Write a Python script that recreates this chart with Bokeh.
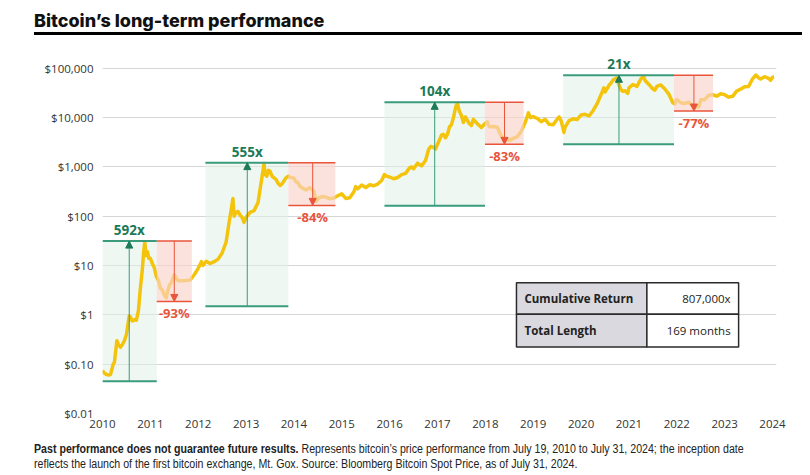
from bokeh.plotting import figure
from bokeh.models import Range1d, FixedTicker, ColumnDataSource, Arrow, NormalHead, Div
from bokeh.layouts import column
from bokeh.core.properties import value
from bokeh.embed import file_html
from bokeh.resources import INLINE

# ---- data (months since July 19, 2010; price in USD) ----
btc_month = [0, 0.5, 1, 1.5, 2, 2.7, 3, 3.6, 4, 4.5, 5, 5.5, 6, 6.7, 7, 7.5, 8, 8.5, 9, 9.5,
             10, 10.3, 10.6, 10.9, 11.3, 11.6, 12, 12.5, 13, 13.5, 14, 14.5, 15, 15.5, 16, 16.3,
             16.8, 17.2, 18, 18.5, 19, 20, 21, 22, 23, 24, 24.8, 25.2, 26, 27, 28, 29, 30, 31,
             31.8, 32.3, 32.7, 33, 33.5, 34, 34.5, 35, 35.5, 36, 37, 38, 39, 39.5, 40.2, 40.5,
             40.8, 41.2, 41.6, 42, 42.5, 43, 43.5, 44, 44.5, 45, 46, 46.6, 47, 48, 48.5, 49,
             49.5, 50, 51, 52, 53, 53.6, 54, 55, 56, 57, 58, 59, 60, 61, 62, 63, 63.5, 64, 65,
             66, 67, 68, 69, 70, 70.7, 71.2, 72, 73, 74, 75, 76, 77, 77.5, 78, 79, 80, 81, 81.8,
             82.3, 83, 83.5, 84, 85, 85.5, 86, 86.5, 87, 87.5, 88, 88.6, 89, 89.4, 90, 90.5, 91,
             92, 92.5, 93, 94, 95, 96, 96.5, 97, 98, 99, 100, 100.8, 101.5, 102, 103, 104, 105,
             106, 106.8, 107.3, 108, 109, 110, 111, 112, 113, 114, 114.5, 115, 115.7, 116, 117,
             118, 119, 120, 121, 122, 123, 124, 125, 125.7, 126, 127, 127.5, 128, 128.9, 129.4,
             130, 130.5, 131, 131.7, 132, 133, 134, 135, 135.7, 136, 137, 138, 138.5, 139, 140,
             141, 142, 143, 143.5, 144, 145, 146, 147, 148, 148.4, 149, 149.5, 150, 151, 152,
             153, 154, 155, 156, 157, 158, 159, 160, 161, 162, 163, 163.8, 164.5, 165, 166, 167,
             167.5, 168, 168.4]
btc_price = [0.075, 0.065, 0.062, 0.06, 0.062, 0.10, 0.11, 0.30, 0.25, 0.22, 0.25, 0.30, 0.40,
             0.95, 0.90, 0.75, 0.80, 0.78, 1.2, 3.5, 8.5, 18, 30, 16, 19, 14, 14, 11, 9, 6, 5.0,
             3.5, 3.2, 2.5, 2.2, 3.0, 4.0, 4.4, 6.5, 5.5, 4.9, 4.9, 5.0, 5.1, 6.5, 8.8, 12, 10,
             12.2, 11, 12, 13.5, 18, 30, 80, 140, 230, 100, 120, 125, 105, 95, 75, 95, 120, 130,
             190, 350, 800, 1150, 700, 650, 850, 820, 650, 600, 560, 470, 420, 450, 600, 650,
             620, 590, 500, 480, 400, 380, 340, 380, 320, 200, 230, 250, 245, 225, 235, 260, 285,
             230, 237, 310, 400, 360, 430, 380, 435, 415, 450, 530, 700, 650, 625, 575, 610, 700,
             740, 960, 1000, 920, 1190, 1050, 1350, 2300, 2600, 2480, 2300, 2870, 4400, 4600,
             3900, 4600, 6450, 7200, 10000, 17000, 19500, 14000, 11000, 8000, 10300, 7500, 6900,
             9200, 7500, 6300, 7700, 8200, 6500, 6600, 6400, 4200, 3300, 3700, 3450, 3800, 4100,
             5300, 8000, 12500, 10000, 10500, 9600, 8300, 9200, 7300, 7200, 9300, 10300, 8600,
             5000, 6400, 8700, 9450, 9140, 11350, 11650, 10780, 13800, 19000, 29000, 40000,
             33000, 45200, 50000, 58000, 63000, 48000, 37000, 34000, 35000, 31000, 40000, 47000,
             43000, 61000, 68000, 57000, 47000, 38000, 36000, 43000, 46000, 38000, 30000, 20000,
             19000, 23300, 20000, 19400, 20500, 17000, 15800, 16800, 16500, 23000, 23100, 28500,
             29200, 27200, 30500, 29200, 26000, 27000, 34500, 37700, 42300, 42600, 61200, 73000,
             64000, 60600, 67500, 62700, 57000, 66000, 66500]

cycle_labels = ["592x", "555x", "104x", "21x"]
drop_labels = ["-93%", "-84%", "-83%", "-77%"]
bull_start = [0, 25.8, 70.7, 115.5]
bull_end = [13.6, 46.6, 95.9, 143.3]
bear_end = [22.4, 58.4, 105.6, 153.1]
bull_low = [0.045, 1.5, 164, 2870]
peak_price = [31.3, 1222, 20400, 72100]
bear_low = [1.87, 166, 2870, 13600]
bull_arrow_m = [6.7, 36.3, 83.3, 129.5]
bear_arrow_m = [18.0, 52.7, 100.8, 148.3]

x_tick_months = [0, 12, 24, 36, 48, 60, 72, 84, 96, 108, 120, 132, 144, 156, 168]
x_tick_labels = ["2010", "2011", "2012", "2013", "2014", "2015", "2016", "2017", "2018",
                 "2019", "2020", "2021", "2022", "2023", "2024"]
y_ticks = [0.01, 0.1, 1, 10, 100, 1000, 10000, 100000]
y_tick_labels = ["$0.01", "$0.10", "$1", "$10", "$100", "$1,000", "$10,000", "$100,000"]

table_rows = ["Cumulative Return", "Total Length"]
table_vals = ["807,000x", "169 months"]

GREEN_LINE = "#3a9c7c"
GREEN_TEXT = "#1c7a58"
RED = "#e9553b"
YELLOW = "#f4c40c"
FONT = "Open Sans"

p = figure(width=794, height=394, x_range=Range1d(0, 169), y_range=Range1d(0.01, 10 ** 5.3),
           y_axis_type="log", output_backend="svg", toolbar_location=None, title=None,
           min_border_left=94, min_border_right=26, min_border_top=11, min_border_bottom=23)
p.outline_line_color = None
p.background_fill_color = "white"
p.border_fill_color = "white"
p.xgrid.visible = False
p.ygrid.grid_line_color = "#d6d6d6"
p.ygrid.grid_line_width = 1

for ax in (p.xaxis[0], p.yaxis[0]):
    ax.axis_line_color = None
    ax.major_tick_line_color = None
    ax.minor_tick_line_color = None
    ax.major_tick_out = 0
    ax.minor_tick_out = 0
    ax.major_label_text_font = FONT
    ax.major_label_text_font_size = "11.5px"
    ax.major_label_text_color = "#333333"

p.xaxis.ticker = FixedTicker(ticks=x_tick_months)
p.xaxis.major_label_overrides = {m: lab for m, lab in zip(x_tick_months, x_tick_labels)}
p.xaxis.major_label_standoff = 6
p.yaxis.ticker = FixedTicker(ticks=y_ticks)
p.yaxis.major_label_overrides = {t: lab for t, lab in zip(y_ticks, y_tick_labels)}
p.yaxis.major_label_standoff = 9

# growth boxes (below the price line)
p.quad(left=bull_start, right=bull_end, bottom=bull_low, top=peak_price,
       fill_color="#e1f0ea", fill_alpha=0.55, line_color=None)

# price line
p.line(btc_month, btc_price, line_color=YELLOW, line_width=3.5, line_join="round")

# drawdown boxes (over the price line)
p.quad(left=bull_end, right=bear_end, bottom=bear_low, top=peak_price,
       fill_color="#fbd3cb", fill_alpha=0.65, line_color=None)

# box edges
p.segment(x0=bull_start, x1=bull_end, y0=peak_price, y1=peak_price, line_color=GREEN_LINE, line_width=2)
p.segment(x0=bull_start, x1=bull_end, y0=bull_low, y1=bull_low, line_color=GREEN_LINE, line_width=2)
p.segment(x0=bull_end, x1=bear_end, y0=peak_price, y1=peak_price, line_color=RED, line_width=1.5)
p.segment(x0=bull_end, x1=bear_end, y0=bear_low, y1=bear_low, line_color=RED, line_width=1.5)

# arrows
up_src = ColumnDataSource(dict(x=bull_arrow_m, y0=bull_low, y1=peak_price))
p.add_layout(Arrow(end=NormalHead(size=7, fill_color=GREEN_TEXT, line_color=GREEN_TEXT),
                   x_start="x", y_start="y0", x_end="x", y_end="y1", source=up_src,
                   line_color=GREEN_LINE, line_width=1))
dn_src = ColumnDataSource(dict(x=bear_arrow_m, y0=peak_price, y1=bear_low))
p.add_layout(Arrow(end=NormalHead(size=7, fill_color=RED, line_color=RED),
                   x_start="x", y_start="y0", x_end="x", y_end="y1", source=dn_src,
                   line_color=RED, line_width=1))

# labels
p.text(x=bull_arrow_m, y=peak_price, text=cycle_labels, text_font=value(FONT),
       text_font_style="bold", text_font_size="13.5px", text_color=GREEN_TEXT,
       text_align="center", text_baseline="bottom", y_offset=-2)
p.text(x=bear_arrow_m, y=bear_low, text=drop_labels, text_font=value(FONT),
       text_font_style="bold", text_font_size="13px", text_color=RED, text_align="center",
       text_baseline="top", y_offset=3)

# summary table
tbl_left, tbl_mid, tbl_right = 103.8, 136.5, 159.5
tbl_y = [4.49, 1.035, 0.222]
p.quad(left=[tbl_left, tbl_left], right=[tbl_mid, tbl_mid], top=tbl_y[:2], bottom=tbl_y[1:],
       fill_color="#d9d9df", line_color="#2b2b2b", line_width=1.5)
p.quad(left=[tbl_mid, tbl_mid], right=[tbl_right, tbl_right], top=tbl_y[:2], bottom=tbl_y[1:],
       fill_color="white", line_color="#2b2b2b", line_width=1.5)
row_y = [(tbl_y[0] * tbl_y[1]) ** 0.5, (tbl_y[1] * tbl_y[2]) ** 0.5]
p.text(x=[tbl_left] * 2, y=row_y, text=table_rows, text_font=value(FONT), text_font_style="bold",
       text_font_size="11.5px", text_color="#222222", text_baseline="middle", x_offset=8)
p.text(x=[tbl_right] * 2, y=row_y, text=table_vals, text_font=value(FONT),
       text_font_size="11.5px", text_color="#222222", text_baseline="middle",
       text_align="right", x_offset=-8)

title_div = Div(width=794, height=34, margin=(0, 0, 0, 0), text=(
    '<div style="margin-left:26px;width:768px;padding-top:2px;height:27px;'
    'border-bottom:3.5px solid #000;font-family:Inter,sans-serif;font-weight:800;'
    'font-size:18px;line-height:22px;color:#111;white-space:nowrap;">'
    'Bitcoin’s long-term performance</div>'))

foot_div = Div(width=794, height=31, margin=(0, 0, 0, 0), text=(
    '<div style="margin-left:26px;width:768px;padding-top:6px;">'
    '<div style="display:inline-block;transform:scaleX(0.85);transform-origin:0 0;'
    'font-family:\'Liberation Sans\',Arial,sans-serif;font-size:12.5px;line-height:14.5px;'
    'color:#222;white-space:nowrap;">'
    '<b>Past performance does not guarantee future results.</b> Represents bitcoin’s price '
    'performance from July 19, 2010 to July 31, 2024; the inception date<br>reflects the launch '
    'of the first bitcoin exchange, Mt. Gox. Source: Bloomberg Bitcoin Spot Price, as of July 31, 2024.'
    '</div></div>'))

layout = column(title_div, p, foot_div, spacing=0, margin=(8, 8, 8, 8))
open("out.html", "w").write(file_html(layout, INLINE, "Bitcoin's long-term performance"))
